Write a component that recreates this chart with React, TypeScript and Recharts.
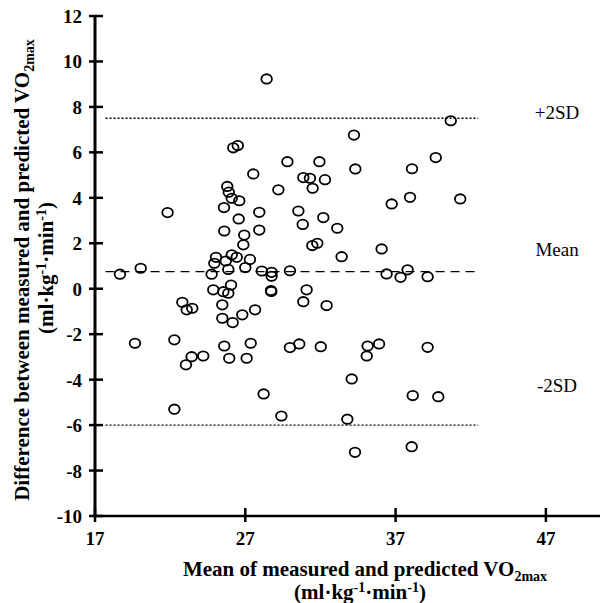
import React from 'react';
import { ScatterChart, Scatter, XAxis, YAxis, ReferenceLine } from 'recharts';

// Bland-Altman: mean of measured and predicted VO2max vs difference
const meanValues = [
  28.42, 26.2, 26.5, 27.53, 25.8, 25.9, 26.1, 26.6, 29.2, 40.67,
  34.23, 29.8, 31.93, 39.67, 34.32, 38.09, 30.86, 31.3, 32.3, 31.48,
  37.96, 41.3, 21.83, 25.58, 27.93, 26.56, 25.6, 27.93, 26.93, 26.87,
  25.05, 24.94, 25.7, 26.1, 26.43, 27.31, 25.87, 27.0, 28.1, 28.75,
  28.75, 18.66, 20.04, 24.76, 24.87, 25.54, 25.87, 26.05, 28.71, 28.73,
  22.81, 23.1, 23.47, 25.47, 25.47, 26.16, 26.8, 27.65, 19.66, 22.28,
  25.6, 27.36, 36.74, 30.53, 30.82, 32.19, 33.12, 31.46, 31.79, 33.41,
  36.07, 29.97, 36.4, 37.33, 37.8, 39.13, 31.08, 30.86, 32.41, 29.97,
  30.59, 32.02, 35.14, 35.9, 35.08, 39.13, 23.05, 23.43, 24.2, 25.93,
  27.09, 22.28, 28.22, 29.4, 34.08, 33.79, 38.14, 39.84, 34.3, 38.07,
];
const diffValues = [
  9.23, 6.2, 6.3, 5.05, 4.5, 4.25, 3.98, 3.87, 4.35, 7.39,
  6.76, 5.59, 5.59, 5.77, 5.27, 5.28, 4.89, 4.86, 4.8, 4.42,
  4.02, 3.95, 3.35, 3.57, 3.36, 3.07, 2.54, 2.58, 2.36, 1.93,
  1.38, 1.12, 1.22, 1.49, 1.38, 1.29, 0.85, 0.93, 0.78, 0.72,
  0.55, 0.64, 0.9, 0.64, -0.05, -0.13, -0.2, 0.16, -0.08, -0.12,
  -0.6, -0.93, -0.86, -0.71, -1.3, -1.49, -1.15, -0.93, -2.4, -2.25,
  -2.52, -2.4, 3.73, 3.42, 2.83, 3.13, 2.66, 1.9, 2.0, 1.41,
  1.75, 0.79, 0.65, 0.5, 0.83, 0.53, -0.05, -0.57, -0.74, -2.59,
  -2.43, -2.55, -2.52, -2.43, -2.96, -2.58, -3.35, -2.99, -2.96, -3.06,
  -3.06, -5.3, -4.63, -5.6, -3.97, -5.74, -4.7, -4.75, -7.2, -6.95,
];

const xTicks = [17, 27, 37, 47];
const yTicks = [-10, -8, -6, -4, -2, 0, 2, 4, 6, 8, 10, 12];

const meanDiff = 0.75;
const upperLimit = 7.5;
const lowerLimit = -6;
const lineStart = 17.7;
const lineEnd = 42.5;

const limitLabels = ['+2SD', 'Mean', '-2SD'];
const limitLabelX = [47.74, 47.74, 47.74];
const limitLabelY = [7.73, 1.7, -4.28];

const points = meanValues.map((m, i) => ({ x: m, y: diffValues[i] }));
const labelPoints = limitLabels.map((t, i) => ({ x: limitLabelX[i], y: limitLabelY[i], text: t }));

const FONT = '"Liberation Serif", "Times New Roman", serif';
const AXIS_X = 95;
const AXIS_Y = 516;

const YTick = ({ y, payload }: any) => (
  <g>
    <line x1={AXIS_X - 6} x2={AXIS_X + 8} y1={y} y2={y} stroke="#000" strokeWidth={2.5} />
    <text x={82} y={y + 7} textAnchor="end" fontFamily={FONT} fontWeight="bold" fontSize={19} fill="#000">
      {payload.value}
    </text>
  </g>
);

const XTick = ({ x, payload }: any) => (
  <g>
    <line x1={x} x2={x} y1={AXIS_Y - 8} y2={AXIS_Y + 6} stroke="#000" strokeWidth={2.5} />
    <text x={x} y={545} textAnchor="middle" fontFamily={FONT} fontWeight="bold" fontSize={19} fill="#000">
      {payload.value}
    </text>
  </g>
);

const Circle = ({ cx, cy }: any) => (
  <ellipse cx={cx} cy={cy} rx={5.3} ry={4.7} fill="none" stroke="#000" strokeWidth={1.8} />
);

const LimitText = ({ cx, cy, payload }: any) => (
  <text x={cx} y={cy + 6} textAnchor="middle" fontFamily={FONT} fontSize={19} fill="#000">
    {payload.text}
  </text>
);

const XTitle = () => (
  <g fontFamily={FONT} fontWeight="bold" fill="#000">
    <text x={365} y={576} textAnchor="middle" fontSize={21}>
      Mean of measured and predicted VO
      <tspan fontSize={14} dy={5}>2max</tspan>
    </text>
    <text x={360} y={599} textAnchor="middle" fontSize={21}>
      (ml·kg<tspan fontSize={14} dy={-7}>-1</tspan>
      <tspan dy={7}>·min</tspan>
      <tspan fontSize={14} dy={-7}>-1</tspan>
      <tspan dy={7}>)</tspan>
    </text>
  </g>
);

const YTitle = () => (
  <g fontFamily={FONT} fontWeight="bold" fill="#000">
    <text x={29} y={270} transform="rotate(-90 29 270)" textAnchor="middle" fontSize={21}>
      Difference between measured and predicted VO
      <tspan fontSize={14} dy={5}>2max</tspan>
    </text>
    <text x={53} y={268} transform="rotate(-90 53 268)" textAnchor="middle" fontSize={21}>
      (ml·kg<tspan fontSize={14} dy={-7}>-1</tspan>
      <tspan dy={7}>·min</tspan>
      <tspan fontSize={14} dy={-7}>-1</tspan>
      <tspan dy={7}>)</tspan>
    </text>
  </g>
);

export default function App() {
  return (
    <div style={{ position: 'absolute', left: 0, top: 0, width: 600, height: 603, background: '#fff' }}>
      <ScatterChart width={600} height={603} margin={{ top: 16, right: 0, left: 0, bottom: 0 }}>
        <XAxis
          type="number"
          dataKey="x"
          domain={[17, 50.6]}
          ticks={xTicks}
          height={87}
          tick={<XTick />}
          tickLine={false}
          axisLine={{ stroke: '#000', strokeWidth: 2.5 }}
          allowDataOverflow
          label={{ content: () => <XTitle /> }}
        />
        <YAxis
          type="number"
          dataKey="y"
          domain={[-10, 12]}
          ticks={yTicks}
          width={95}
          tick={<YTick />}
          tickLine={false}
          axisLine={{ stroke: '#000', strokeWidth: 3 }}
          allowDataOverflow
          label={{ content: () => <YTitle /> }}
        />
        <ReferenceLine
          segment={[{ x: lineStart, y: upperLimit }, { x: lineEnd, y: upperLimit }]}
          stroke="#000"
          strokeWidth={1.3}
          strokeDasharray="2 2"
        />
        <ReferenceLine
          segment={[{ x: lineStart, y: meanDiff }, { x: lineEnd, y: meanDiff }]}
          stroke="#000"
          strokeWidth={1.3}
          strokeDasharray="9 6"
        />
        <ReferenceLine
          segment={[{ x: lineStart, y: lowerLimit }, { x: lineEnd, y: lowerLimit }]}
          stroke="#000"
          strokeWidth={1.3}
          strokeDasharray="2 2"
        />
        <Scatter data={points} shape={<Circle />} isAnimationActive={false} />
        <Scatter data={labelPoints} shape={<LimitText />} isAnimationActive={false} />
      </ScatterChart>
    </div>
  );
}
